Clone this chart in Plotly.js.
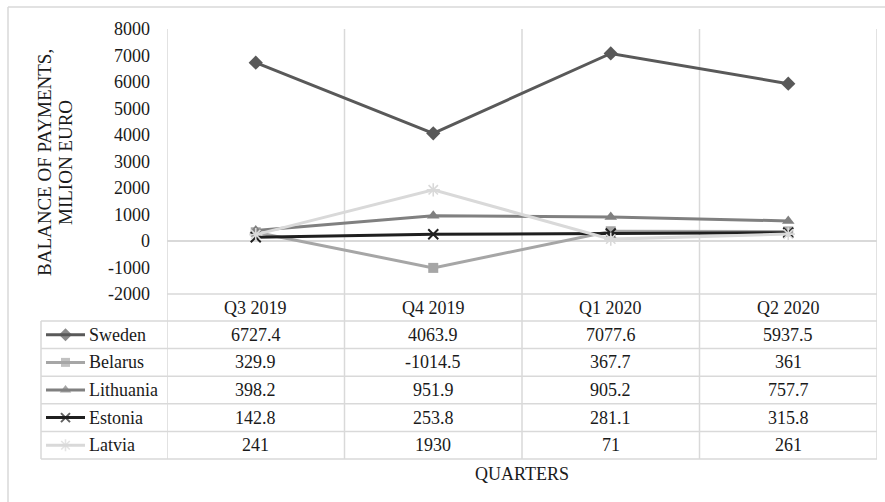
<!DOCTYPE html>
<html>
<head>
<meta charset="utf-8">
<script src="https://cdn.plot.ly/plotly-3.0.1.min.js"></script>
<style>
  html, body { margin: 0; padding: 0; background: #ffffff; }
  #chart { width: 885px; height: 502px; }
</style>
</head>
<body>
<div id="chart"></div>
<script>
// ---------- data ----------
const quarters = ["Q3 2019", "Q4 2019", "Q1 2020", "Q2 2020"];
const countries = ["Sweden", "Belarus", "Lithuania", "Estonia", "Latvia"];
const sweden    = [6727.4, 4063.9, 7077.6, 5937.5];
const belarus   = [329.9, -1014.5, 367.7, 361];
const lithuania = [398.2, 951.9, 905.2, 757.7];
const estonia   = [142.8, 253.8, 281.1, 315.8];
const latvia    = [241, 1930, 71, 261];
const seriesValues = [sweden, belarus, lithuania, estonia, latvia];
const yTickValues = [-2000, -1000, 0, 1000, 2000, 3000, 4000, 5000, 6000, 7000, 8000];

// ---------- styles ----------
const colors  = ["#595959", "#a6a6a6", "#808080", "#1f1f1f", "#d9d9d9"];
const symbols = ["diamond", "square", "triangle-up", "x-thin-open", "asterisk-open"];
const msizes  = [11, 10, 11, 10, 11];
const mlinew  = [0, 0, 0, 2, 1.6];

const W = 885, H = 502;
const px = v => v / W;
const py = v => 1 - v / H;

// layout geometry (pixels)
const plotL = 167, plotR = 877, plotT = 29, plotB = 294;
const headerB = 321;
const rowH = (459 - headerB) / countries.length;
const tableL = 41;
const gridColor = "#d9d9d9";
const textColor = "#1a1a1a";
const FONT = "'Liberation Serif', 'Times New Roman', serif";
const fs = 18;

const traces = [];
countries.forEach((c, i) => {
  traces.push({
    type: "scatter", mode: "lines+markers", name: c,
    x: quarters, y: seriesValues[i],
    xaxis: "x", yaxis: "y",
    line: { color: colors[i], width: 3 },
    marker: { symbol: symbols[i], size: msizes[i], color: colors[i],
              line: { color: colors[i], width: mlinew[i] } },
    hoverinfo: "skip", showlegend: false
  });
});

// legend keys inside the data table (overlay pixel axes)
countries.forEach((c, i) => {
  const yc = headerB + rowH * (i + 0.5);
  traces.push({
    type: "scatter", mode: "lines+markers",
    x: [46, 65.5, 85], y: [yc, yc, yc],
    xaxis: "x2", yaxis: "y2",
    line: { color: colors[i], width: 3 },
    marker: { symbol: symbols[i], size: [0, msizes[i] - 1, 0], color: colors[i],
              line: { color: colors[i], width: mlinew[i] } },
    hoverinfo: "skip", showlegend: false
  });
});

const shapes = [];
const line = (x0, y0, x1, y1, extra) => Object.assign({
  type: "line", xref: "paper", yref: "paper",
  x0: px(x0), y0: py(y0), x1: px(x1), y1: py(y1),
  line: { color: gridColor, width: 1.5 }, layer: "below"
}, extra || {});

// outer chart border (left + top)
shapes.push(line(8, 7, 8, 520));
shapes.push(line(8, 7, 900, 7));

// vertical category boundaries through plot and table
for (let k = 0; k <= quarters.length; k++) {
  shapes.push({
    type: "line", xref: "x", yref: "paper",
    x0: k - 0.5, x1: k - 0.5, y0: py(459), y1: py(plotT),
    line: { color: gridColor, width: 1.5 }, layer: "below"
  });
}
// plot bottom / header top
shapes.push(line(plotL, plotB, plotR, plotB));
// table horizontal lines
for (let r = 0; r <= countries.length; r++) {
  const yy = headerB + rowH * r;
  shapes.push(line(tableL, yy, plotR, yy));
}
// table left edge
shapes.push(line(tableL, headerB, tableL, 459));

const annotations = [];
const colW = (plotR - plotL) / quarters.length;
// header
quarters.forEach((q, j) => {
  annotations.push({
    xref: "paper", yref: "paper", x: px(plotL + colW * (j + 0.5)), y: py((plotB + headerB) / 2),
    text: q, showarrow: false, xanchor: "center", yanchor: "middle",
    font: { family: FONT, size: fs, color: textColor }
  });
});
// rows
countries.forEach((c, i) => {
  const yc = headerB + rowH * (i + 0.5);
  annotations.push({
    xref: "paper", yref: "paper", x: px(87), y: py(yc),
    text: c, showarrow: false, xanchor: "left", yanchor: "middle",
    font: { family: FONT, size: fs, color: textColor }
  });
  seriesValues[i].forEach((v, j) => {
    annotations.push({
      xref: "paper", yref: "paper", x: px(plotL + colW * (j + 0.5)), y: py(yc),
      text: String(v), showarrow: false, xanchor: "center", yanchor: "middle",
      font: { family: FONT, size: fs, color: textColor }
    });
  });
});
// axis titles
annotations.push({
  xref: "paper", yref: "paper", x: px(45), y: py(163),
  text: "BALANCE OF PAYMENTS,", textangle: -90, showarrow: false,
  xanchor: "center", yanchor: "middle",
  font: { family: FONT, size: 19, color: textColor }
});
annotations.push({
  xref: "paper", yref: "paper", x: px(66), y: py(163),
  text: "MILION EURO", textangle: -90, showarrow: false,
  xanchor: "center", yanchor: "middle",
  font: { family: FONT, size: 19, color: textColor }
});
annotations.push({
  xref: "paper", yref: "paper", x: px((plotL + plotR) / 2), y: py(474),
  text: "QUARTERS", showarrow: false, xanchor: "center", yanchor: "middle",
  font: { family: FONT, size: fs, color: textColor }
});

const layout = {
  width: W, height: H,
  margin: { l: 0, r: 0, t: 0, b: 0, pad: 0 },
  paper_bgcolor: "#ffffff", plot_bgcolor: "rgba(0,0,0,0)",
  showlegend: false,
  xaxis: {
    domain: [px(plotL), px(plotR)], type: "category", range: [-0.5, quarters.length - 0.5],
    showticklabels: false, showgrid: false, zeroline: false, showline: false, ticks: "",
    automargin: false, fixedrange: true, anchor: "y"
  },
  yaxis: {
    domain: [py(plotB), py(plotT)], range: [-2000, 8000],
    tickmode: "array", tickvals: yTickValues, ticktext: yTickValues.map(String),
    showgrid: false, zeroline: true, zerolinecolor: gridColor, zerolinewidth: 1.5,
    showline: false, ticks: "", ticklabelstandoff: 16,
    tickfont: { family: FONT, size: fs, color: textColor },
    automargin: false, fixedrange: true, anchor: "x"
  },
  xaxis2: { domain: [0, 1], range: [0, W], visible: false, anchor: "y2", fixedrange: true },
  yaxis2: { domain: [0, 1], range: [H, 0], visible: false, anchor: "x2", fixedrange: true },
  shapes: shapes,
  annotations: annotations
};

Plotly.newPlot("chart", traces, layout, { staticPlot: true, displayModeBar: false });
</script>
</body>
</html>
